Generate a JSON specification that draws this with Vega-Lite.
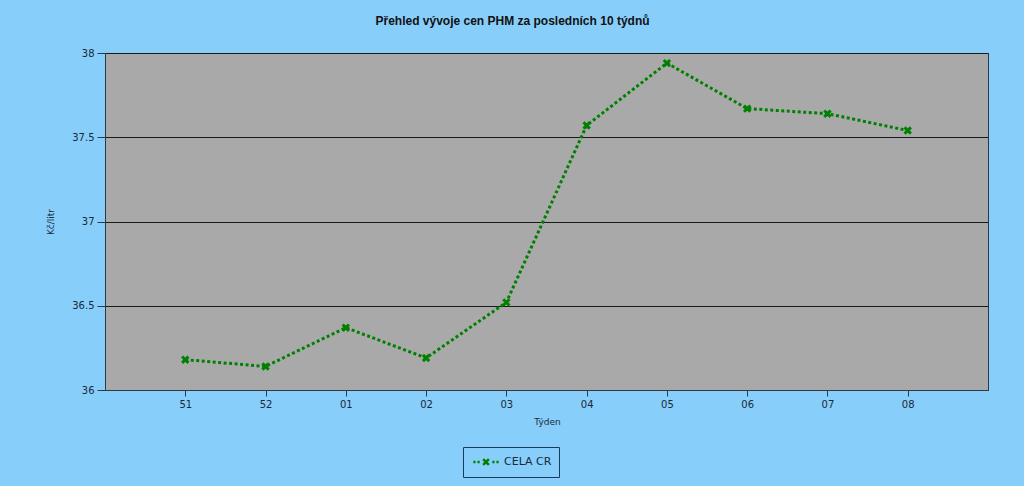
{
  "$schema": "https://vega.github.io/schema/vega-lite/v6.json",
  "autosize": {"type": "none"},
  "width": 883,
  "height": 337,
  "padding": {"left": 105, "top": 53, "right": 36, "bottom": 96},
  "background": "#87CEFA",
  "title": {
    "text": "Přehled vývoje cen PHM za posledních 10 týdnů",
    "font": "Liberation Sans",
    "fontSize": 12,
    "fontWeight": "bold",
    "color": "#111111",
    "anchor": "middle",
    "dx": -34,
    "offset": 20
  },
  "config": {
    "view": {"fill": "#A9A9A9", "stroke": "#2a3a4a", "strokeWidth": 1},
    "axis": {
      "labelFont": "DejaVu Sans",
      "labelFontSize": 10,
      "labelColor": "#1a2a3a",
      "titleFont": "DejaVu Sans",
      "titleFontSize": 9,
      "titleFontWeight": "normal",
      "titleColor": "#1a2a3a",
      "domainColor": "#2a3a4a",
      "tickColor": "#2a3a4a"
    },
    "legend": {
      "labelFont": "DejaVu Sans",
      "labelFontSize": 11,
      "labelColor": "#1a2a3a"
    }
  },
  "data": {
    "values": [
      {"tyden": "51", "cena": 36.18, "serie": "CELA CR"},
      {"tyden": "52", "cena": 36.14, "serie": "CELA CR"},
      {"tyden": "01", "cena": 36.37, "serie": "CELA CR"},
      {"tyden": "02", "cena": 36.19, "serie": "CELA CR"},
      {"tyden": "03", "cena": 36.52, "serie": "CELA CR"},
      {"tyden": "04", "cena": 37.57, "serie": "CELA CR"},
      {"tyden": "05", "cena": 37.94, "serie": "CELA CR"},
      {"tyden": "06", "cena": 37.67, "serie": "CELA CR"},
      {"tyden": "07", "cena": 37.64, "serie": "CELA CR"},
      {"tyden": "08", "cena": 37.54, "serie": "CELA CR"}
    ]
  },
  "encoding": {
    "x": {
      "field": "tyden",
      "type": "ordinal",
      "sort": null,
      "scale": {"type": "point", "padding": 1},
      "axis": {
        "title": "Týden",
        "labelAngle": 0,
        "tickSize": 6,
        "labelPadding": 3,
        "titlePadding": 8,
        "titleX": 442,
        "grid": false
      }
    },
    "y": {
      "field": "cena",
      "type": "quantitative",
      "scale": {"domain": [36, 38], "nice": false, "zero": false},
      "axis": {
        "title": "Kč/litr",
        "values": [36, 36.5, 37, 37.5, 38],
        "labelExpr": "datum.value",
        "tickSize": 8,
        "labelPadding": 3,
        "titlePadding": 16,
        "grid": true,
        "gridColor": "#1a1a1a",
        "gridWidth": 1,
        "gridOpacity": 1
      }
    },
    "color": {
      "field": "serie",
      "type": "nominal",
      "scale": {"domain": ["CELA CR"], "range": ["#008000"]},
      "legend": {
        "title": null,
        "orient": "none",
        "legendX": 358,
        "legendY": 394,
        "strokeColor": "#1a3a5a",
        "padding": 7,
        "symbolType": "M-2,0H-1.65M-1.35,0H-1M1,0H1.35M1.65,0H2M-0.45,-0.45L0.45,0.45M0.45,-0.45L-0.45,0.45",
        "symbolSize": 160,
        "symbolStrokeWidth": 2.5,
        "symbolFillColor": "transparent",
        "symbolOffset": 8,
        "labelOffset": 10,
        "labelLimit": 200
      }
    }
  },
  "layer": [
    {
      "mark": {"type": "line", "strokeWidth": 3, "strokeDash": [3, 2.5]}
    },
    {
      "mark": {
        "type": "point",
        "shape": "M-1,-1L1,1M1,-1L-1,1",
        "size": 40,
        "filled": false,
        "strokeWidth": 3,
        "opacity": 1
      }
    }
  ]
}
